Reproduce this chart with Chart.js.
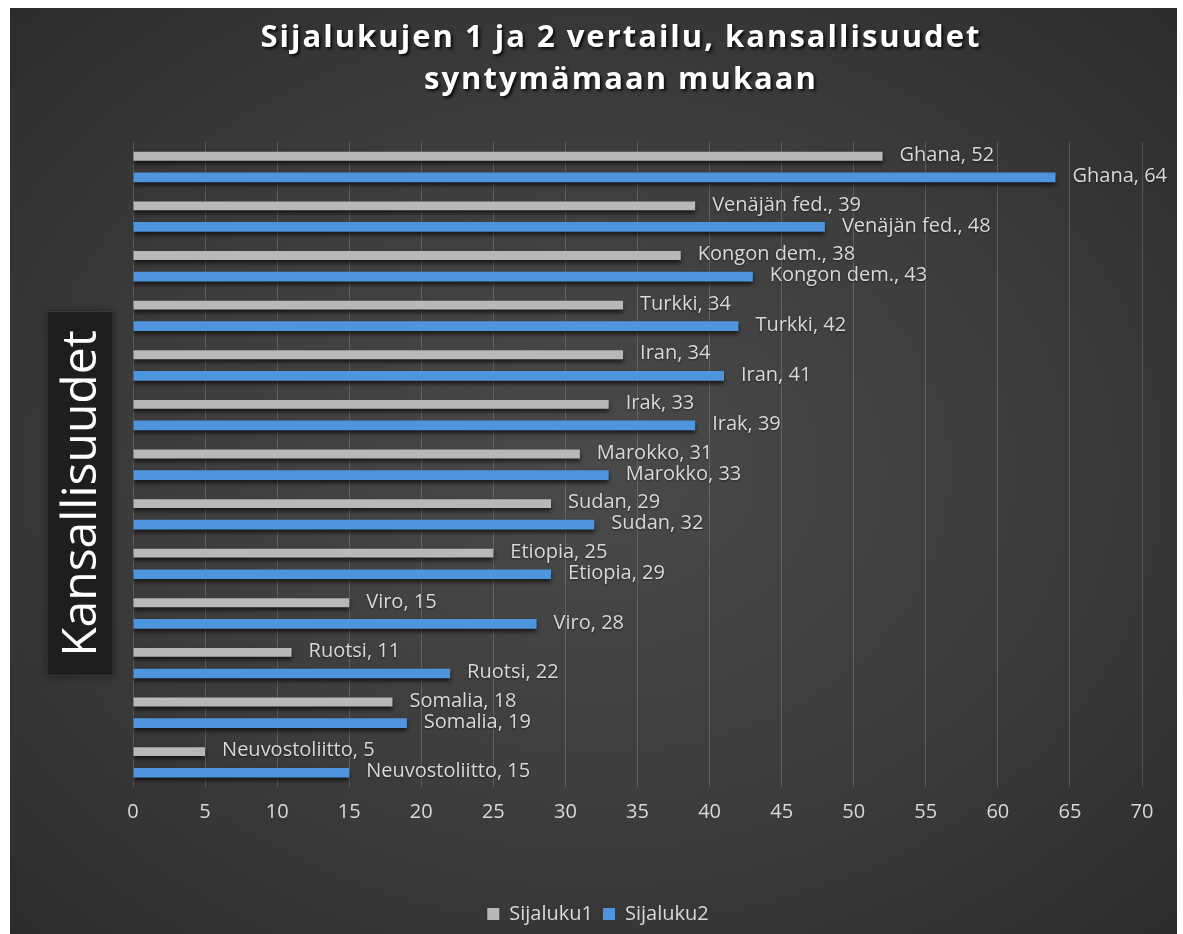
<!DOCTYPE html>
<html>
<head>
<meta charset="utf-8">
<script src="https://cdn.jsdelivr.net/npm/chart.js@4/dist/chart.umd.min.js"></script>
<style>
  html, body { margin: 0; padding: 0; background: #ffffff; }
  #wrap {
    position: absolute; left: 10px; top: 8px; width: 1167px; height: 926px;
    background: radial-gradient(ellipse at 50% 50%, #4a4a4a 0%, #3c3c3c 55%, #2c2c2c 100%);
  }
</style>
</head>
<body>
<div id="wrap"><canvas id="grafSijat" width="1167" height="926"></canvas></div>
<script>
// Kansallisuudet (ylhaalta alas)
const maat = ['Ghana', 'Venäjän fed.', 'Kongon dem.', 'Turkki', 'Iran', 'Irak', 'Marokko',
              'Sudan', 'Etiopia', 'Viro', 'Ruotsi', 'Somalia', 'Neuvostoliitto'];
const sijaluku1 = [52, 39, 38, 34, 34, 33, 31, 29, 25, 15, 11, 18, 5];
const sijaluku2 = [64, 48, 43, 42, 41, 39, 33, 32, 29, 28, 22, 19, 15];
const xTicks = [0, 5, 10, 15, 20, 25, 30, 35, 40, 45, 50, 55, 60, 65, 70];
const otsikko = ['Sijalukujen 1 ja 2 vertailu, kansallisuudet', 'syntymämaan mukaan'];

const tekstiVari = '#d9d9d9';

// palkkien varjo, arvotekstit "Maa, arvo", otsikko ja y-akselin otsikko
const piirrot = {
    id: 'piirrot',
    beforeDatasetsDraw(chart) {
        const ctx = chart.ctx;
        ctx.save();
        ctx.shadowColor = 'rgba(0,0,0,0.65)';
        ctx.shadowBlur = 4;
        ctx.shadowOffsetY = 3;
    },
    afterDatasetsDraw(chart) {
        const ctx = chart.ctx;
        ctx.restore();
        ctx.save();
        ctx.font = '20px "Open Sans"';
        ctx.fillStyle = tekstiVari;
        ctx.textAlign = 'left';
        ctx.textBaseline = 'middle';
        ctx.shadowColor = 'rgba(0,0,0,0.5)';
        ctx.shadowBlur = 2;
        ctx.shadowOffsetY = 1;
        chart.data.datasets.forEach((ds, di) => {
            const meta = chart.getDatasetMeta(di);
            meta.data.forEach((bar, i) => {
                ctx.fillText(maat[i] + ', ' + ds.data[i], bar.x + 17, bar.y - 1);
            });
        });
        ctx.restore();
    },
    afterDraw(chart) {
        const ctx = chart.ctx;
        const a = chart.chartArea;

        // otsikko
        ctx.save();
        ctx.font = 'bold 31px "Open Sans"';
        ctx.letterSpacing = '2px';
        ctx.fillStyle = '#ffffff';
        ctx.textAlign = 'center';
        ctx.textBaseline = 'middle';
        ctx.shadowColor = 'rgba(0,0,0,0.8)';
        ctx.shadowBlur = 3;
        ctx.shadowOffsetX = 2;
        ctx.shadowOffsetY = 2;
        ctx.fillText(otsikko[0], 611, 30);
        ctx.fillText(otsikko[1], 611, 72);
        ctx.restore();

        // y-akselin otsikko mustassa laatikossa
        const cx = a.left - 53;
        const cy = (a.top + a.bottom) / 2 + 29;
        ctx.save();
        ctx.translate(cx, cy);
        ctx.rotate(-Math.PI / 2);
        ctx.shadowColor = 'rgba(0,0,0,0.6)';
        ctx.shadowBlur = 6;
        ctx.fillStyle = '#1e1e1e';
        ctx.fillRect(-182, -33, 364, 66);
        ctx.shadowColor = 'transparent';
        ctx.strokeStyle = '#3a3a3a';
        ctx.lineWidth = 1;
        ctx.strokeRect(-182, -33, 364, 66);
        ctx.font = '48px "Open Sans"';
        ctx.fillStyle = '#ffffff';
        ctx.textAlign = 'center';
        ctx.textBaseline = 'middle';
        ctx.fillText('Kansallisuudet', 0, 2);
        ctx.restore();
    }
};

const tiedot = {
    labels: maat,
    datasets: [{
        label: 'Sijaluku1',
        data: sijaluku1,
        backgroundColor: '#b8b8b8',
        borderWidth: 0,
        categoryPercentage: 0.85,
        barPercentage: 0.42
    }, {
        label: 'Sijaluku2',
        data: sijaluku2,
        backgroundColor: '#4f95de',
        borderWidth: 0,
        categoryPercentage: 0.85,
        barPercentage: 0.46
    }]
};

const ctx = document.getElementById('grafSijat').getContext('2d');
const grafSijat = new Chart(ctx, {
    type: 'bar',
    data: tiedot,
    plugins: [piirrot],
    options: {
        indexAxis: 'y',
        responsive: false,
        animation: false,
        layout: { padding: { left: 44, right: 35, top: 134, bottom: 0 } },
        plugins: {
            title: { display: false },
            legend: {
                position: 'bottom',
                labels: {
                    color: tekstiVari,
                    font: { family: 'Open Sans', size: 20 },
                    boxWidth: 12,
                    boxHeight: 12,
                    padding: 10
                }
            },
            tooltip: { enabled: false }
        },
        scales: {
            x: {
                min: 0,
                max: 70,
                afterBuildTicks(scale) {
                    scale.ticks = xTicks.map(v => ({ value: v }));
                },
                afterFit(scale) { scale.height = 107; },
                ticks: {
                    color: tekstiVari,
                    font: { family: 'Open Sans', size: 20 },
                    padding: 13
                },
                grid: { color: 'rgba(255,255,255,0.16)', drawTicks: false },
                border: { display: false }
            },
            y: {
                afterFit(scale) { scale.width = 79; },
                ticks: { display: false },
                grid: { display: false },
                border: { display: false }
            }
        }
    }
});
</script>
</body>
</html>
